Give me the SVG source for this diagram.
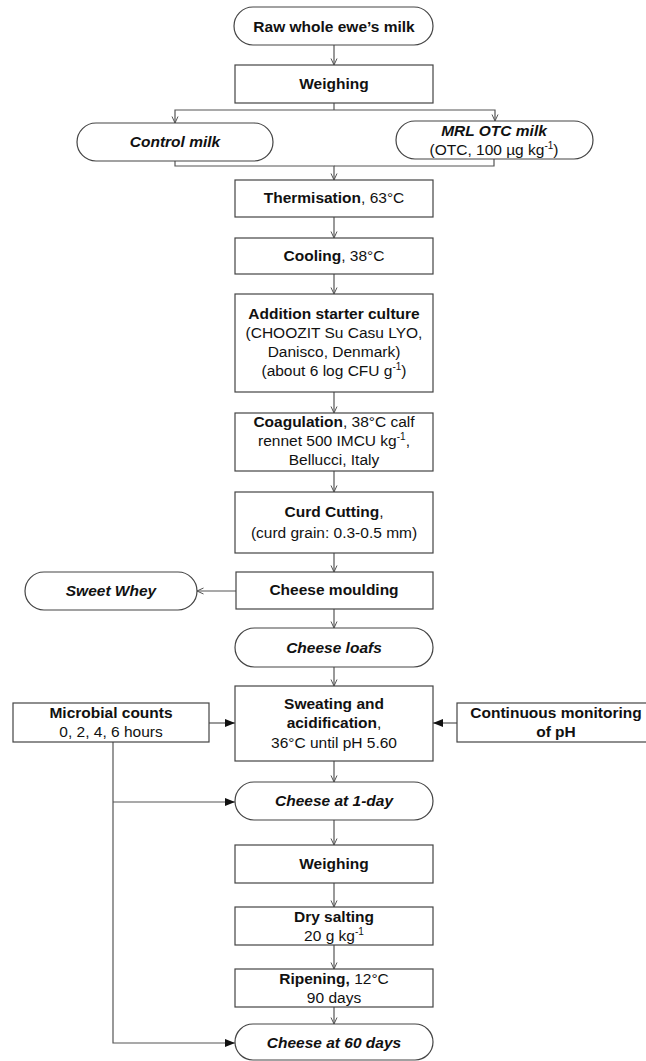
<svg xmlns="http://www.w3.org/2000/svg" width="646" height="1061" viewBox="0 0 646 1061">
<style>
.box{fill:#fff;stroke:#444;stroke-width:1.2}
.c{fill:none;stroke:#555;stroke-width:1.2}
.t{font-family:"Liberation Sans",Arial,sans-serif;font-size:15.5px;fill:#111;text-anchor:middle}
.b{font-weight:bold}
.bi{font-weight:bold;font-style:italic}
.sup{font-size:10px}
</style>
<defs>
<marker id="open" viewBox="0 0 8 8" refX="7.5" refY="4" markerWidth="8" markerHeight="8" markerUnits="userSpaceOnUse" orient="auto"><path d="M1,1 L7.5,4 L1,7" fill="none" stroke="#555" stroke-width="1"/></marker>
<marker id="solid" viewBox="0 0 10 8" refX="10" refY="4" markerWidth="10" markerHeight="8" markerUnits="userSpaceOnUse" orient="auto"><path d="M0,0 L10,4 L0,8 z" fill="#111"/></marker>
</defs>
<rect width="646" height="1061" fill="#fff"/>
<g id="connectors">
<path class="c" d="M334,45 V65" marker-end="url(#open)"/>
<path class="c" d="M334,103 V110"/>
<path class="c" d="M334,110 H175 V123" marker-end="url(#open)"/>
<path class="c" d="M334,110 H495 V121" marker-end="url(#open)"/>
<path class="c" d="M175,161 V166 H334 V180" marker-end="url(#open)"/>
<path class="c" d="M494,159 V166 H334"/>
<path class="c" d="M334,217 V238" marker-end="url(#open)"/>
<path class="c" d="M334,274 V294" marker-end="url(#open)"/>
<path class="c" d="M334,392 V413" marker-end="url(#open)"/>
<path class="c" d="M334,471 V492" marker-end="url(#open)"/>
<path class="c" d="M334,553 V572" marker-end="url(#open)"/>
<path class="c" d="M236,591 H197" marker-end="url(#open)"/>
<path class="c" d="M334,609 V628" marker-end="url(#open)"/>
<path class="c" d="M334,667 V686" marker-end="url(#open)"/>
<path class="c" d="M209,723 H235" marker-end="url(#solid)"/>
<path class="c" d="M457,723 H433" marker-end="url(#solid)"/>
<path class="c" d="M334,761 V782" marker-end="url(#open)"/>
<path class="c" d="M113,742 V1043 H235" marker-end="url(#solid)"/>
<path class="c" d="M113,802 H235" marker-end="url(#solid)"/>
<path class="c" d="M334,820 V845" marker-end="url(#open)"/>
<path class="c" d="M334,883 V907" marker-end="url(#open)"/>
<path class="c" d="M334,945 V969" marker-end="url(#open)"/>
<path class="c" d="M334,1007 V1024" marker-end="url(#open)"/>
</g>
<g id="raw"><rect class="box" x="234" y="7" width="199" height="38" rx="19"/><text class="t b" x="334" y="32">Raw whole ewe’s milk</text></g>
<g id="weighing1"><rect class="box" x="235" y="65" width="198" height="38"/><text class="t b" x="334" y="89">Weighing</text></g>
<g id="control"><rect class="box" x="77" y="123" width="196" height="38" rx="19"/><text class="t bi" x="175" y="147">Control milk</text></g>
<g id="mrl"><rect class="box" x="396" y="121" width="197" height="38" rx="19"/><text class="t bi" x="494" y="136">MRL OTC milk</text><text class="t" x="494" y="155">(OTC, 100 µg kg<tspan class="sup" dy="-6">-1</tspan><tspan dy="6">)</tspan></text></g>
<g id="thermisation"><rect class="box" x="235" y="180" width="198" height="37"/><text class="t" x="334" y="203"><tspan class="b">Thermisation</tspan>, 63°C</text></g>
<g id="cooling"><rect class="box" x="235" y="238" width="198" height="36"/><text class="t" x="334" y="261"><tspan class="b">Cooling</tspan>, 38°C</text></g>
<g id="addition"><rect class="box" x="235" y="294" width="198" height="98"/>
<text class="t b" x="334" y="319">Addition starter culture</text>
<text class="t" x="334" y="338">(CHOOZIT Su Casu LYO,</text>
<text class="t" x="334" y="357">Danisco, Denmark)</text>
<text class="t" x="334" y="376">(about 6 log CFU g<tspan class="sup" dy="-6">-1</tspan><tspan dy="6">)</tspan></text></g>
<g id="coagulation"><rect class="box" x="235" y="413" width="198" height="58"/>
<text class="t" x="334" y="427"><tspan class="b">Coagulation</tspan>, 38°C calf</text>
<text class="t" x="334" y="446">rennet 500 IMCU kg<tspan class="sup" dy="-6">-1</tspan><tspan dy="6">,</tspan></text>
<text class="t" x="334" y="465">Bellucci, Italy</text></g>
<g id="curd"><rect class="box" x="235" y="492" width="198" height="61"/>
<text class="t" x="334" y="517"><tspan class="b">Curd Cutting</tspan>,</text>
<text class="t" x="334" y="538">(curd grain: 0.3-0.5 mm)</text></g>
<g id="moulding"><rect class="box" x="236" y="572" width="197" height="37"/><text class="t b" x="334" y="595">Cheese moulding</text></g>
<g id="whey"><rect class="box" x="25" y="572" width="172" height="38" rx="19"/><text class="t bi" x="111" y="596">Sweet Whey</text></g>
<g id="loafs"><rect class="box" x="235" y="628" width="198" height="39" rx="19.5"/><text class="t bi" x="334" y="653">Cheese loafs</text></g>
<g id="sweating"><rect class="box" x="235" y="686" width="198" height="75"/>
<text class="t b" x="334" y="709">Sweating and</text>
<text class="t" x="334" y="728"><tspan class="b">acidification</tspan>,</text>
<text class="t" x="334" y="748">36°C until pH 5.60</text></g>
<g id="microbial"><rect class="box" x="13" y="703" width="196" height="39"/>
<text class="t b" x="111" y="718">Microbial counts</text>
<text class="t" x="111" y="737">0, 2, 4, 6 hours</text></g>
<g id="continuous"><rect class="box" x="457" y="703" width="198" height="39"/>
<text class="t b" x="556" y="718">Continuous monitoring</text>
<text class="t b" x="556" y="737">of pH</text></g>
<g id="day1"><rect class="box" x="235" y="782" width="198" height="38" rx="19"/><text class="t bi" x="334" y="806">Cheese at 1-day</text></g>
<g id="weighing2"><rect class="box" x="235" y="845" width="198" height="38"/><text class="t b" x="334" y="869">Weighing</text></g>
<g id="salting"><rect class="box" x="235" y="907" width="198" height="38"/>
<text class="t b" x="334" y="922">Dry salting</text>
<text class="t" x="334" y="941">20 g kg<tspan class="sup" dy="-6">-1</tspan></text></g>
<g id="ripening"><rect class="box" x="235" y="969" width="198" height="38"/>
<text class="t" x="334" y="984"><tspan class="b">Ripening,</tspan> 12°C</text>
<text class="t" x="334" y="1003">90 days</text></g>
<g id="day60"><rect class="box" x="235" y="1024" width="198" height="36" rx="18"/><text class="t bi" x="334" y="1048">Cheese at 60 days</text></g>
</svg>
